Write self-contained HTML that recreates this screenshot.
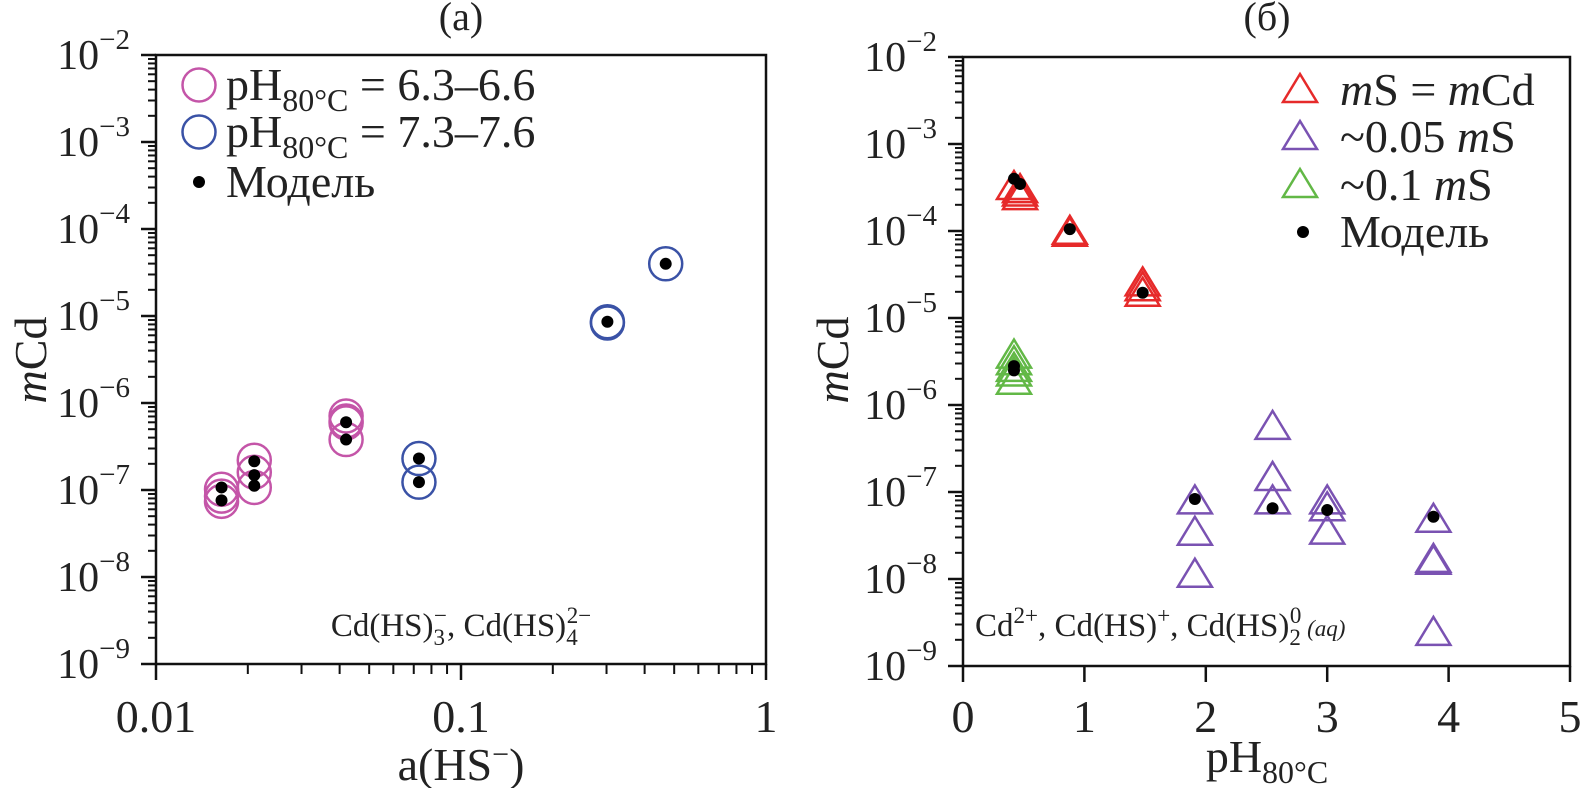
<!DOCTYPE html>
<html><head><meta charset="utf-8"><style>
html,body{margin:0;padding:0;background:#fff;}
svg{display:block;font-family:"Liberation Serif",serif;}
</style></head><body>
<svg id="chart" width="1581" height="788" viewBox="0 0 1581 788" xmlns="http://www.w3.org/2000/svg">
<g id="panelA"></g>
<g id="panelB"></g>
</svg>
<script>
// ---- Panel (a) data ----
const pinkX = [0.0164,0.0164,0.0164,0.021,0.021,0.021,0.042,0.042,0.042,0.042];
const pinkY = [1.02e-7,8.5e-8,7.4e-8,2.2e-7,1.6e-7,1.07e-7,7.1e-7,6.2e-7,5.9e-7,3.8e-7];
const blueX = [0.0728,0.0728,0.302,0.302,0.469];
const blueY = [2.3e-7,1.23e-7,8.6e-6,8.3e-6,3.98e-5];
const modelAX = [0.0164,0.0164,0.021,0.021,0.021,0.042,0.042,0.0728,0.0728,0.302,0.469];
const modelAY = [1.07e-7,7.6e-8,2.14e-7,1.48e-7,1.12e-7,6.0e-7,3.8e-7,2.3e-7,1.23e-7,8.6e-6,3.98e-5];
const xTicksA = [0.01,0.1,1];
const xTickLabelsA = ["0.01","0.1","1"];
// ---- Panel (b) data ----
const redX = [0.42,0.47,0.47,0.47,0.88,0.88,1.48,1.48,1.48];
const redY = [3.2e-4,2.95e-4,2.7e-4,2.45e-4,9.8e-5,9.3e-5,2.5e-5,2.2e-5,1.9e-5];
const greenX = [0.42,0.42,0.42,0.42,0.42];
const greenY = [3.7e-6,3.1e-6,2.6e-6,2.3e-6,1.85e-6];
const purpleX = [1.91,1.91,1.91,2.55,2.55,2.55,3.0,3.0,3.0,3.875,3.875,3.875,3.875];
const purpleY = [7.8e-8,3.4e-8,1.12e-8,5.6e-7,1.45e-7,7.8e-8,7.8e-8,6.5e-8,3.5e-8,4.8e-8,1.66e-8,1.58e-8,2.4e-9];
const modelBX = [0.42,0.47,0.88,1.48,0.42,0.42,1.91,2.55,3.0,3.875];
const modelBY = [3.98e-4,3.47e-4,1.05e-4,1.95e-5,2.8e-6,2.5e-6,8.3e-8,6.5e-8,6.2e-8,5.2e-8];
const xTicksB = [0,1,2,3,4,5];
const yExps = [-2,-3,-4,-5,-6,-7,-8,-9];

const NS = "http://www.w3.org/2000/svg";
function mk(tag, attrs, parent){ const e=document.createElementNS(NS,tag); for(const k in attrs) e.setAttribute(k,attrs[k]); parent.appendChild(e); return e; }

const A = {x0:156,x1:766,y0:55,y1:664};
const B = {x0:963,x1:1570,y0:57,y1:666};
const xA = a => A.x0 + (Math.log10(a)+2)*(A.x1-A.x0)/2;
const yA = v => A.y0 + (-2-Math.log10(v))*(A.y1-A.y0)/7;
const xB = p => B.x0 + p*(B.x1-B.x0)/5;
const yB = v => B.y0 + (-2-Math.log10(v))*(B.y1-B.y0)/7;

function frame(g, P, yfun){
  const r = mk('rect',{x:P.x0,y:P.y0,width:P.x1-P.x0,height:P.y1-P.y0,fill:'none',stroke:'#111','stroke-width':2.5},g);
   
  yExps.forEach(e=>{
    const y = yfun(Math.pow(10,e));
    const t = mk('line',{x1:P.x0-15,x2:P.x0,y1:y,y2:y,stroke:'#111','stroke-width':2.5},g);
     
    const lab = mk('text',{x:P.x0-26,y:y+14,'text-anchor':'end','font-size':42,fill:'#222'},g);
     
    lab.textContent='10';
    const sup = mk('tspan',{dy:-20,'font-size':29},lab); sup.textContent='\u2212'+(-e);
    if(e>-9){ for(let m=2;m<=9;m++){
      const ym = yfun(m*Math.pow(10,e-1));
      const mt = mk('line',{x1:P.x0-8,x2:P.x0,y1:ym,y2:ym,stroke:'#111','stroke-width':2},g);
       
    }}
  });
}
function circle(g,cx,cy,col,name){ const c=mk('circle',{cx:cx,cy:cy,r:16.5,fill:'none',stroke:col,'stroke-width':2.5},g);   return c; }
function dot(g,cx,cy,name){ const c=mk('circle',{cx:cx,cy:cy,r:6,fill:'#000'},g);   return c; }
function tri(g,cx,cy,col,name){ const p=mk('polygon',{points:`${cx},${cy-16} ${cx-17},${cy+12} ${cx+17},${cy+12}`,fill:'none',stroke:col,'stroke-width':2.5},g);   return p; }
function txt(g,x,y,size,anchor,html,name){ const t=mk('text',{x:x,y:y,'font-size':size,'text-anchor':anchor,fill:'#222'},g); t.innerHTML=html;   return t; }

// ---- Panel A ----
const gA = document.getElementById('panelA');
frame(gA, A, yA);
xTicksA.forEach((v,i)=>{
  const x=xA(v);
  const t=mk('line',{x1:x,x2:x,y1:A.y1,y2:A.y1+16,stroke:'#111','stroke-width':2.5},gA);
   
  txt(gA,x,732,46,'middle',xTickLabelsA[i],'x-tick-label');
  if(i<2){ for(let m=2;m<=9;m++){ const xm=xA(m*v);
    const mt=mk('line',{x1:xm,x2:xm,y1:A.y1,y2:A.y1+10,stroke:'#111','stroke-width':2},gA);
      } }
});
pinkX.forEach((v,i)=>circle(gA,xA(v),yA(pinkY[i]),'#c455a8','pink-circle'));
blueX.forEach((v,i)=>circle(gA,xA(v),yA(blueY[i]),'#3a52a6','blue-circle'));
modelAX.forEach((v,i)=>dot(gA,xA(v),yA(modelAY[i]),'model-dot'));
txt(gA,461,30,40,'middle','(a)','panel-a-title');
txt(gA,461,780,46,'middle','a(HS<tspan dy="-16" font-size="30">\u2212</tspan><tspan dy="16">)</tspan>','x-axis-title-a');
txt(gA,0,0,46,'middle','<tspan font-style="italic">m</tspan>Cd','y-axis-title-a').setAttribute('transform','translate(46,360) rotate(-90)');
txt(gA,461,636,33,'middle','Cd(HS)<tspan dy="9" font-size="23">3</tspan><tspan dy="-22" dx="-11" font-size="23">\u2212</tspan><tspan dy="13">, Cd(HS)</tspan><tspan dy="9" font-size="23">4</tspan><tspan dy="-22" dx="-11" font-size="23">2\u2212</tspan>','species-annotation-a');
// legend A
circle(gA,199,85,'#c455a8','legend-pink-marker');
txt(gA,226,100,46,'start','pH<tspan dy="11" font-size="32">80°C</tspan><tspan dy="-11"> = 6.3–6.6</tspan>','legend-pink-label');
circle(gA,199,132,'#3a52a6','legend-blue-marker');
txt(gA,226,147,46,'start','pH<tspan dy="11" font-size="32">80°C</tspan><tspan dy="-11"> = 7.3–7.6</tspan>','legend-blue-label');
dot(gA,199,182,'legend-model-marker');
txt(gA,226,197,46,'start','Модель','legend-model-label');

// ---- Panel B ----
const gB = document.getElementById('panelB');
frame(gB, B, yB);
xTicksB.forEach(v=>{
  const x=xB(v);
  const t=mk('line',{x1:x,x2:x,y1:B.y1,y2:B.y1+16,stroke:'#111','stroke-width':2.5},gB);
   
  txt(gB,x,732,46,'middle',String(v),'x-tick-label');
});
redX.forEach((v,i)=>tri(gB,xB(v),yB(redY[i]),'#e62a2a','red-triangle'));
greenX.forEach((v,i)=>tri(gB,xB(v),yB(greenY[i]),'#62b846','green-triangle'));
purpleX.forEach((v,i)=>tri(gB,xB(v),yB(purpleY[i]),'#7a52b2','purple-triangle'));
modelBX.forEach((v,i)=>dot(gB,xB(v),yB(modelBY[i]),'model-dot'));
txt(gB,1267,30,40,'middle','(б)','panel-b-title');
txt(gB,1267,772,46,'middle','pH<tspan dy="11" font-size="32">80°C</tspan>','x-axis-title-b');
txt(gB,0,0,46,'middle','<tspan font-style="italic">m</tspan>Cd','y-axis-title-b').setAttribute('transform','translate(848,360) rotate(-90)');
txt(gB,975,636,33,'start','Cd<tspan dy="-13" font-size="23">2+</tspan><tspan dy="13">, Cd(HS)</tspan><tspan dy="-13" font-size="23">+</tspan><tspan dy="13">, Cd(HS)</tspan><tspan dy="9" font-size="23">2</tspan><tspan dy="-22" dx="-11" font-size="23">0</tspan><tspan dy="13" font-size="23" font-style="italic"> (aq)</tspan>','species-annotation-b');
// legend B
tri(gB,1300,90,'#e62a2a','legend-red-marker');
txt(gB,1340,105,46,'start','<tspan font-style="italic">m</tspan>S = <tspan font-style="italic">m</tspan>Cd','legend-red-label');
tri(gB,1300,137,'#7a52b2','legend-purple-marker');
txt(gB,1340,152,46,'start','~0.05 <tspan font-style="italic">m</tspan>S','legend-purple-label');
tri(gB,1300,185,'#62b846','legend-green-marker');
txt(gB,1340,200,46,'start','~0.1 <tspan font-style="italic">m</tspan>S','legend-green-label');
dot(gB,1303,232,'legend-model-marker');
txt(gB,1340,247,46,'start','Модель','legend-model-label');
</script>
</body></html>
